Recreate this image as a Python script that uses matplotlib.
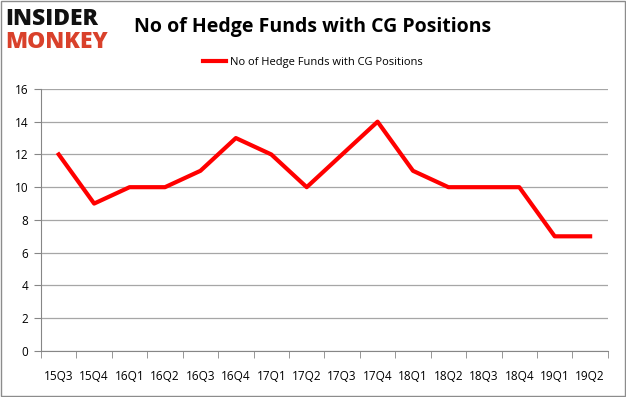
import numpy as np
import matplotlib.pyplot as plt

quarters = ['15Q3', '15Q4', '16Q1', '16Q2', '16Q3', '16Q4', '17Q1', '17Q2',
            '17Q3', '17Q4', '18Q1', '18Q2', '18Q3', '18Q4', '19Q1', '19Q2']
funds = [12, 9, 10, 10, 11, 13, 12, 10, 12, 14, 11, 10, 10, 10, 7, 7]
y_ticks = [0, 2, 4, 6, 8, 10, 12, 14, 16]

plt.rcParams['font.family'] = ['Open Sans', 'DejaVu Sans']

fig = plt.figure(figsize=(6.26, 3.97), dpi=100)
ax = fig.add_axes([0.0655, 0.116, 0.9055, 0.66])

x = np.arange(len(quarters))
line, = ax.plot(x, funds, color='#ff0000', linewidth=3,
                label='No of Hedge Funds with CG Positions')

ax.set_xlim(-0.5, len(quarters) - 0.5)
ax.set_ylim(0, 16)
ax.set_yticks(y_ticks)
ax.set_yticklabels([str(v) for v in y_ticks], fontsize=8.5)
ax.set_xticks(x)
ax.set_xticklabels(quarters, fontsize=8.5)
ax.set_xticks(np.arange(-0.5, len(quarters)), minor=True)
ax.tick_params(axis='x', which='major', length=0, pad=14)
ax.tick_params(axis='x', which='minor', length=5, color='#868686')
ax.tick_params(axis='y', length=5, color='#868686', pad=4)

ax.grid(axis='y', color='#a6a6a6', linewidth=0.9)
ax.set_axisbelow(True)
for side in ['top', 'right']:
    ax.spines[side].set_visible(False)
for side in ['left', 'bottom']:
    ax.spines[side].set_color('#868686')

fig.text(0.5, 0.932, 'No of Hedge Funds with CG Positions', ha='center',
         va='center', fontsize=14, fontweight='bold')
fig.legend(handles=[line], loc='center', bbox_to_anchor=(0.5, 0.843),
           frameon=False, fontsize=8, handlelength=2.0, handletextpad=0.4)

fig.text(0.008, 0.952, 'INSIDER', fontsize=16.5, fontweight='black',
         color='#111111', va='center', ha='left')
fig.text(0.008, 0.893, 'MONKEY', fontsize=16.5, fontweight='black',
         color='#d9412b', va='center', ha='left')

fig.patches.append(plt.Rectangle((0.001, 0.002), 0.997, 0.995,
                                 transform=fig.transFigure, fill=False,
                                 edgecolor='#8c8c8c', linewidth=1))

fig.savefig('out.png', dpi=100)
